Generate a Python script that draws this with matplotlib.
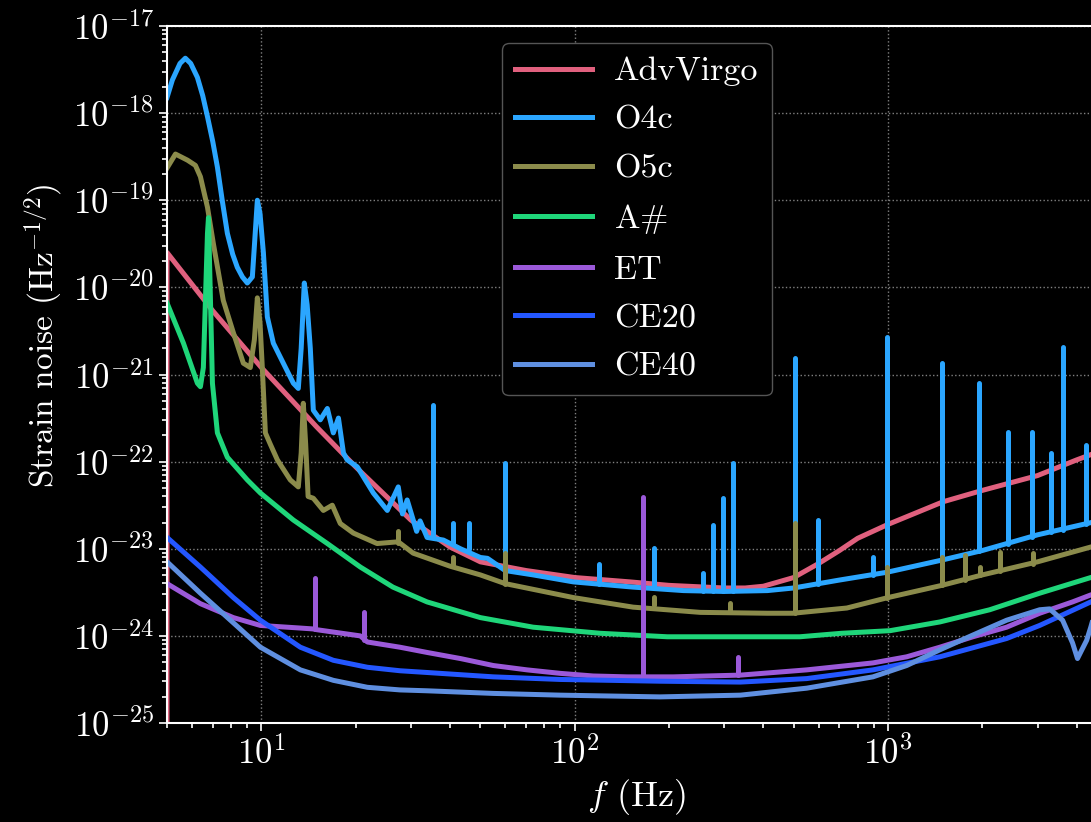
import numpy as np
import matplotlib
matplotlib.use('Agg')
import matplotlib.pyplot as plt

plt.rcParams['font.family'] = 'serif'
plt.rcParams['font.serif'] = ['cmr10', 'DejaVu Serif']
plt.rcParams['mathtext.fontset'] = 'cm'
plt.rcParams['axes.unicode_minus'] = False
plt.rcParams['axes.formatter.use_mathtext'] = True

# ---- data (frequency in Hz, log10 of strain noise) ----
virgo_f = [5, 5, 7, 10, 15, 20, 30, 40, 50, 70, 100, 150, 200, 300, 350, 400, 500, 600, 700, 800, 1000, 1500, 2000, 3000, 4000, 5000]
virgo_lg = [-26, -19.6, -20.27, -20.92, -21.60, -22.06, -22.67, -22.98, -23.15, -23.25, -23.33, -23.38, -23.42, -23.45, -23.45,
            -23.43, -23.33, -23.17, -23.02, -22.88, -22.72, -22.46, -22.33, -22.16, -21.98, -21.85]

o4c_f = [5.0, 5.2, 5.5, 5.72, 5.95, 6.25, 6.5, 6.73, 7.0, 7.24, 7.5, 7.79, 8.1, 8.38, 8.7, 9.02, 9.36, 9.55, 9.71, 9.9,
         10.15, 10.45, 10.92, 11.75, 12.65, 13.12, 13.4, 13.71, 14.0, 14.33, 14.65, 15.42, 16.24, 16.97, 17.62, 18.28,
         18.79, 20.24, 22.77, 25.23, 27.35, 28.2, 29.2, 31.3, 32.1, 33.8, 38.1, 43.2, 50.0, 52.7, 60, 73.7, 99, 153.6,
         222.3, 300, 412, 500, 697, 991, 1485, 2000, 3000, 4437, 5000]
o4c_lg = [-17.82, -17.62, -17.43, -17.37, -17.43, -17.59, -17.8, -18.04, -18.33, -18.62, -19.0, -19.38, -19.62, -19.77,
          -19.88, -19.95, -19.88, -19.4, -19.0, -19.15, -19.6, -20.34, -20.64, -20.87, -21.10, -21.16, -20.7, -19.95,
          -20.2, -20.7, -21.41, -21.52, -21.39, -21.67, -21.50, -21.90, -21.98, -22.06, -22.36, -22.56, -22.29, -22.60,
          -22.44, -22.80, -22.68, -22.87, -22.90, -23.00, -23.10, -23.11, -23.25, -23.30, -23.38, -23.44, -23.48, -23.49,
          -23.48, -23.45, -23.36, -23.27, -23.13, -23.02, -22.84, -22.70, -22.65]
o4c_line_f = [35.4, 41.0, 45.9, 60.0, 119.8, 179, 257.4, 277, 298, 321, 505, 597, 895, 991, 1485, 1950, 2409, 2874, 3302, 3607, 4274]
o4c_line_lo = [-22.87, -22.95, -23.0, -23.25, -23.40, -23.45, -23.48, -23.48, -23.48, -23.48, -23.45, -23.40, -23.30, -23.27,
               -23.13, -23.03, -22.95, -22.87, -22.81, -22.78, -22.72]
o4c_line_hi = [-21.35, -22.71, -22.71, -22.02, -23.17, -22.99, -23.28, -22.73, -22.42, -22.01, -20.81, -22.67, -23.10, -20.57,
               -20.87, -21.10, -21.66, -21.66, -21.90, -20.69, -21.81]

o5c_f = [5.0, 5.32, 5.81, 6.16, 6.39, 6.73, 7.03, 7.56, 8.14, 8.76, 9.22, 9.5, 9.71, 9.9, 10.07, 10.30, 10.68, 11.25,
         12.37, 13.12, 13.4, 13.61, 13.85, 14.1, 14.65, 15.77, 16.84, 17.86, 19.66, 23.4, 27.35, 30.5, 40, 50, 60, 99,
         153.6, 251.7, 412, 497, 739, 1000, 1485, 2000, 3000, 4437, 5000]
o5c_lg = [-18.63, -18.47, -18.54, -18.60, -18.73, -19.08, -19.5, -20.15, -20.52, -20.87, -20.92, -20.6, -20.12, -20.4,
          -20.92, -21.67, -21.8, -21.98, -22.21, -22.29, -21.9, -21.33, -21.8, -22.40, -22.42, -22.56, -22.50, -22.71,
          -22.82, -22.94, -22.92, -23.05, -23.2, -23.3, -23.40, -23.56, -23.67, -23.73, -23.74, -23.74, -23.68, -23.56,
          -23.42, -23.30, -23.15, -22.98, -22.93]
o5c_line_f = [27.35, 41.0, 60, 179, 313, 505, 991, 1485, 1757, 1965, 2271, 2895]
o5c_line_lo = [-22.93, -23.2, -23.40, -23.65, -23.73, -23.74, -23.56, -23.42, -23.36, -23.30, -23.25, -23.17]
o5c_line_hi = [-22.80, -23.1, -23.05, -23.55, -23.62, -22.71, -23.21, -23.10, -23.07, -23.21, -23.04, -23.05]

asharp_f = [5.0, 5.64, 6.25, 6.39, 6.53, 6.73, 6.78, 6.88, 6.98, 7.24, 7.79, 9.02, 9.93, 12.65, 16.24, 20.7, 26.3, 33.8,
            50, 73.7, 120.7, 197.5, 321, 523, 710, 1015, 1463, 2111, 3048, 4437, 5000]
asharp_lg = [-20.18, -20.64, -21.10, -21.14, -20.92, -19.38, -19.2, -20.15, -21.1, -21.67, -21.95, -22.21, -22.36, -22.67,
             -22.94, -23.21, -23.44, -23.61, -23.79, -23.90, -23.97, -24.01, -24.01, -24.01, -23.97, -23.94, -23.84,
             -23.70, -23.51, -23.33, -23.27]

et_f = [5.0, 6.39, 8.14, 9.93, 13.32, 14.6, 15.1, 20.7, 21.8, 27.7, 33.8, 43.2, 55.0, 70.5, 90, 114.5, 147, 206.6, 338,
        550, 895, 1147, 1463, 1866, 2391, 3048, 3880, 4437, 5000]
et_lg = [-23.40, -23.63, -23.79, -23.88, -23.91, -23.92, -23.93, -24.0, -24.07, -24.13, -24.19, -24.26, -24.34, -24.39,
         -24.43, -24.46, -24.47, -24.47, -24.45, -24.39, -24.31, -24.24, -24.13, -24.01, -23.90, -23.74, -23.61, -23.53, -23.47]
et_line_f = [14.86, 21.2, 165.3, 333]
et_line_lo = [-23.92, -24.05, -24.47, -24.45]
et_line_hi = [-23.34, -23.73, -22.41, -24.24]

ce20_f = [5.0, 6.39, 8.14, 9.93, 13.32, 16.97, 21.8, 27.7, 33.8, 55.0, 90, 187, 338, 550, 895, 1463, 2391, 3048, 4437, 5000]
ce20_lg = [-22.87, -23.21, -23.56, -23.82, -24.13, -24.28, -24.36, -24.40, -24.42, -24.47, -24.50, -24.52, -24.53, -24.49,
           -24.39, -24.24, -24.03, -23.88, -23.61, -23.52]

ce40_f = [5.0, 6.39, 8.14, 9.93, 13.32, 16.97, 21.8, 27.7, 33.8, 55.0, 90, 187, 338, 550, 895, 1147, 1463, 1866, 2391,
          3048, 3278, 3607, 3880, 4024, 4305, 4437, 4600]
ce40_lg = [-23.15, -23.51, -23.85, -24.13, -24.39, -24.51, -24.59, -24.62, -24.63, -24.66, -24.68, -24.70, -24.68, -24.60,
           -24.47, -24.34, -24.16, -23.99, -23.82, -23.70, -23.69, -23.82, -24.08, -24.26, -24.05, -23.90, -23.70]

labels = ['AdvVirgo', 'O4c', 'O5c', 'A$\\#$', 'ET', 'CE20', 'CE40']
colors = ['#e0607e', '#2ba6ff', '#8b8b4b', '#1fd67a', '#9b59d9', '#2457ff', '#5f8fe0']
y_decades = [-25, -24, -23, -22, -21, -20, -19, -18, -17]
x_decades = [1, 2, 3]

curves = [(virgo_f, virgo_lg, None),
          (o4c_f, o4c_lg, (o4c_line_f, o4c_line_lo, o4c_line_hi)),
          (o5c_f, o5c_lg, (o5c_line_f, o5c_line_lo, o5c_line_hi)),
          (asharp_f, asharp_lg, None),
          (et_f, et_lg, (et_line_f, et_line_lo, et_line_hi)),
          (ce20_f, ce20_lg, None),
          (ce40_f, ce40_lg, None)]

fig = plt.figure(figsize=(10.91, 8.22), dpi=100, facecolor='black')
ax = fig.add_axes([0.1531, 0.1204, 0.8616, 0.848])
ax.set_facecolor('black')

lw = 3.6
for (f, lg, lines), lab, c in zip(curves, labels, colors):
    ax.plot(f, 10.0 ** np.array(lg), color=c, lw=lw, label=lab, solid_joinstyle='round')
    if lines is not None:
        lf, lo, hi = lines
        ax.vlines(lf, 10.0 ** np.array(lo), 10.0 ** np.array(hi), color=c, lw=lw, capstyle='round')

ax.set_xscale('log')
ax.set_yscale('log')
ax.set_xlim(5, 5000)
ax.set_ylim(1e-25, 1e-17)
ax.set_yticks(10.0 ** np.array(y_decades, dtype=float))
ax.set_xticks(10.0 ** np.array(x_decades, dtype=float))
ax.set_xlim(5, 5000)
ax.set_ylim(1e-25, 1e-17)

ax.grid(True, which='major', linestyle=':', color='#808080', lw=1.0)
for s in ax.spines.values():
    s.set_color('white')
    s.set_linewidth(1.5)
ax.spines['right'].set_visible(False)
ax.tick_params(which='both', colors='white', labelsize=25, width=1.2)
ax.tick_params(which='major', length=6)
ax.tick_params(which='minor', length=3.5)

ax.set_xlabel('$f$ (Hz)', color='white', fontsize=26, labelpad=4)
ax.set_ylabel('Strain noise (Hz$^{-1/2}$)', color='white', fontsize=24)
ax.yaxis.set_label_coords(-0.11, 0.555)

leg = ax.legend(loc='upper center', fontsize=24.5, facecolor='black', edgecolor='#555555', framealpha=1,
                handlelength=2.25, handletextpad=0.65, labelspacing=0.55, borderaxespad=0.5)
for t in leg.get_texts():
    t.set_color('white')

fig.savefig('out.png', dpi=100, facecolor='black')
